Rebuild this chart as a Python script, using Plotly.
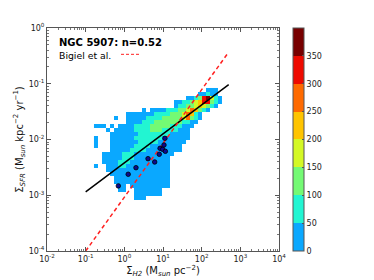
import plotly.graph_objects as go

# ---------------- data ----------------
# 2D histogram of pixels in log10(Sigma_H2), log10(Sigma_SFR) space.
# Bin layout (log10 units): columns start at hist_x0 with width hist_dx,
# rows start (top) at hist_y0 going down by hist_dy.
hist_x0 = -0.785
hist_dx = 0.1034
hist_y0 = -1.076
hist_dy = 0.0717

# each char = count class: '.' empty, '1' 0-50, '2' 50-100, ... '8' 350-400
hist_rows = [
    "............................111.",
    "..........................11211.",
    ".......................112378421",
    "....................112234577321",
    "....................12233454321.",
    "............1.111122233465321...",
    "........1111111222233346521.....",
    ".....1..1111122223333346321.....",
    "........111122233333332211......",
    "111.1.1111222233333222111.......",
    "...1.1111122223332222111........",
    "....11111112222222211111........",
    "1...11111122222221111111........",
    "1...1111111222221111111.........",
    "1...111111222211111111..........",
    "....111112222111111111..........",
    "..111112221111111111............",
    "..11111222111111111.............",
    "..11112221111111111.............",
    "1..1112211111111111.............",
    "...1111111111111111.............",
    "....111111111111111.............",
    ".....11111111111111.............",
    ".....11111111111111.............",
    "......11.1111111111.............",
    "......11..1111111...............",
    "..........1111111...............",
    "..........111...................",
]

# apertures (blue dots)
dot_x = [0.70, 1.26, 2.0, 4.1, 6.1, 8.0, 8.4, 9.8, 10.6, 11.5, 11.2]
dot_y = [1.47e-3, 2.38e-3, 3.12e-3, 4.53e-3, 3.95e-3, 5.43e-3, 6.95e-3,
         6.67e-3, 7.97e-3, 6.14e-3, 1.05e-2]

# best fit (n = 0.52)
fit_x = [0.1, 500]
fit_y = [1.15e-3, 0.0961]

# Bigiel et al. relation
bigiel_x = [0.1, 500]
bigiel_y = [1.0e-4, 0.37]

cbar_ticks = [0, 50, 100, 150, 200, 250, 300, 350]
x_decades = [-2, -1, 0, 1, 2, 3, 4]
y_decades = [-4, -3, -2, -1, 0]

level_colors = ["#0aa8ff", "#22f5d2", "#74fa74", "#d4f825", "#ffc400",
                "#ff6a00", "#ee0a00", "#780000"]

# ---------------- build ----------------
ncol = len(hist_rows[0])
hx = [hist_x0 + hist_dx * (c + 0.5) for c in range(ncol)]
hy = [hist_y0 - hist_dy * (r + 0.5) for r in range(len(hist_rows))]
z = []
for row in hist_rows:
    z.append([None if ch == "." else int(ch) * 50 - 25 for ch in row])

cs = []
n = len(level_colors)
for i, col in enumerate(level_colors):
    cs.append([i / n, col])
    cs.append([(i + 1) / n, col])


def dec_text(p):
    return "10<sup>%d</sup>" % p


def minor_vals(decs):
    return [m * 10.0 ** d for d in decs[:-1] for m in range(2, 10)]


FONT = "DejaVu Sans"
fig = go.Figure()

# heatmap on hidden linear (log10-unit) base axes
fig.add_trace(go.Heatmap(
    x=hx, y=hy, z=z, xaxis="x", yaxis="y",
    zmin=0, zmax=400, colorscale=cs, hoverinfo="skip",
    colorbar=dict(
        x=1.06, xanchor="left", xpad=0, ypad=0,
        y=0.5, yanchor="middle", len=1, lenmode="fraction",
        thickness=11, outlinewidth=1, outlinecolor="#555",
        tickvals=cbar_ticks, ticks="inside", ticklen=2, tickcolor="#555",
        tickfont=dict(size=8, family=FONT, color="#222"),
    ),
))

# lines and dots on the visible log axes (drawn on top)
fig.add_trace(go.Scatter(
    x=fit_x, y=fit_y, mode="lines", xaxis="x2", yaxis="y2",
    line=dict(color="black", width=1.5), showlegend=False, hoverinfo="skip"))
fig.add_trace(go.Scatter(
    x=bigiel_x, y=bigiel_y, mode="lines", xaxis="x2", yaxis="y2",
    line=dict(color="#ff2020", width=1.5, dash="4px,3px"), showlegend=False, hoverinfo="skip"))
fig.add_trace(go.Scatter(
    x=dot_x, y=dot_y, mode="markers", xaxis="x2", yaxis="y2",
    marker=dict(size=4.5, color="#0a0a90", line=dict(color="black", width=0.8)),
    showlegend=False, hoverinfo="skip"))

axis_common = dict(
    showgrid=False, zeroline=False, showline=True, linecolor="#555", linewidth=1,
    mirror="all", ticks="inside", ticklen=4, tickcolor="#555", automargin=False,
    tickfont=dict(size=8, family=FONT, color="#222"),
)

# page body adds an 8px offset; figure size/margins compensate for it
fig.update_layout(
    width=366, height=272,
    margin=dict(l=39, r=95, t=20, b=29, autoexpand=False),
    paper_bgcolor="white", plot_bgcolor="white",
    showlegend=False,
    xaxis=dict(range=[x_decades[0], x_decades[-1]], visible=False, fixedrange=True),
    yaxis=dict(range=[y_decades[0], y_decades[-1]], visible=False, fixedrange=True),
    xaxis2=dict(type="log", overlaying="x", side="bottom", anchor="y2",
                range=[x_decades[0], x_decades[-1]],
                tickmode="array", tickvals=[10.0 ** d for d in x_decades],
                ticktext=[dec_text(d) for d in x_decades],
                minor=dict(tickmode="array", tickvals=minor_vals(x_decades),
                           ticks="inside", ticklen=2, tickcolor="#777", showgrid=False),
                title=dict(text="Σ<sub><i>H2</i></sub> (M<sub><i>sun</i></sub> pc<sup>−2</sup>)",
                           font=dict(size=10, family=FONT, color="#111"), standoff=0),
                **axis_common),
    yaxis2=dict(type="log", overlaying="y", side="left", anchor="x2",
                range=[y_decades[0], y_decades[-1]],
                tickmode="array", tickvals=[10.0 ** d for d in y_decades],
                ticktext=[dec_text(d) for d in y_decades],
                minor=dict(tickmode="array", tickvals=minor_vals(y_decades),
                           ticks="inside", ticklen=2, tickcolor="#777", showgrid=False),
                title=dict(text="Σ<sub><i>SFR</i></sub> (M<sub><i>sun</i></sub> kpc<sup>−2</sup> yr<sup>−1</sup>)",
                           font=dict(size=10, family=FONT, color="#111"), standoff=3),
                **axis_common),
    annotations=[
        dict(xref="paper", yref="paper", x=0.045, y=0.968, xanchor="left", yanchor="top",
             text="<b>NGC 5907: n=0.52</b>", showarrow=False,
             font=dict(size=10, family=FONT, color="black")),
        dict(xref="paper", yref="paper", x=0.045, y=0.912, xanchor="left", yanchor="top",
             text="Bigiel et al.", showarrow=False,
             font=dict(size=9.3, family=FONT, color="black")),
    ],
    shapes=[
        dict(type="line", xref="paper", yref="paper", x0=0.319, x1=0.405, y0=0.882, y1=0.882,
             line=dict(color="#ff2020", width=1, dash="3px,2px")),
    ],
)

fig.write_html("out.html")
